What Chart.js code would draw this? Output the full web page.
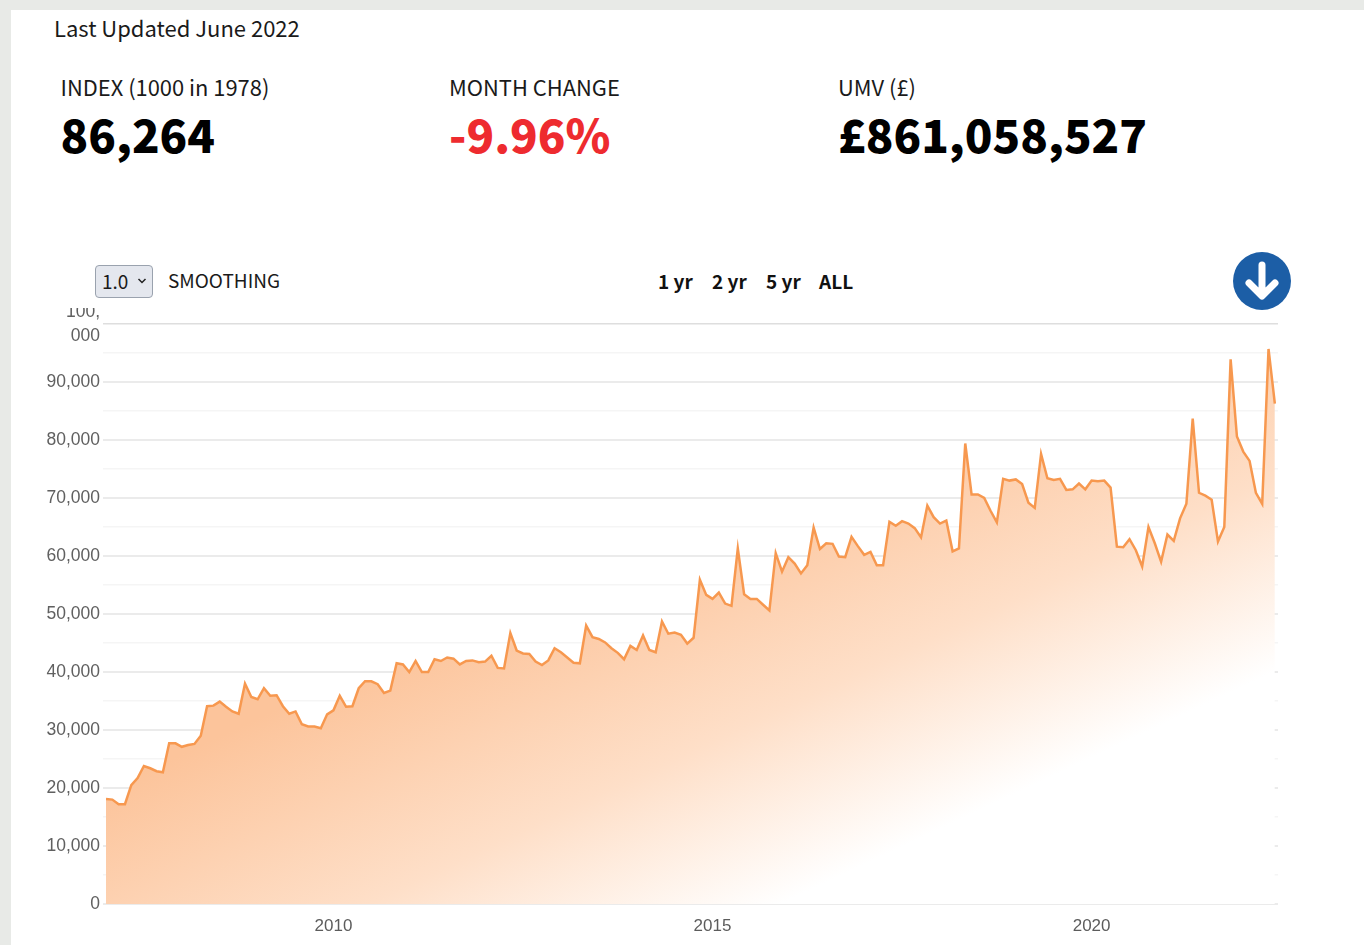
<!DOCTYPE html>
<html>
<head>
<meta charset="utf-8">
<script src="https://cdn.jsdelivr.net/npm/chart.js@4"></script>
<style>
html,body{margin:0;padding:0;background:#e8eae7;overflow:hidden}
#page{position:absolute;left:11px;top:10px;width:1353px;height:935px;background:#fff}
#wrap{position:absolute;left:0;top:0;width:1364px;height:945px;font-family:"Noto Sans CJK SC","Noto Sans",sans-serif;color:#1a1a1a}
#chart{position:absolute;left:0;top:290px}
#bar{position:absolute;left:11px;top:10px;width:1353px;height:298px;background:#fff}
.t{position:absolute;white-space:nowrap;line-height:1}
.lab{font-size:21.9px;top:76px}
.big{font-size:45.5px;font-weight:900;top:111px;color:#000}
#sel{position:absolute;left:95px;top:265px;width:56px;height:31px;background:#e4e7ee;border:1.5px solid #9aa2ae;border-radius:4px;box-sizing:content-box}
.rng{font-size:19px;font-weight:700;top:271px;color:#111}
</style>
</head>
<body>
<div id="page"></div>
<div id="wrap">
<canvas id="chart" width="1364" height="655" style="width:1364px;height:655px"></canvas>
<div id="bar"></div>
<div class="t" style="left:54px;top:16px;font-size:22px">Last Updated June 2022</div>
<div class="t lab" style="left:60.5px">INDEX (1000 in 1978)</div>
<div class="t lab" style="left:449px">MONTH CHANGE</div>
<div class="t lab" style="left:838px">UMV (£)</div>
<div class="t big" style="left:60.5px">86,264</div>
<div class="t big" style="left:449px;color:#ee2b2f">-9.96%</div>
<div class="t big" style="left:838px">£861,058,527</div>
<div id="sel"></div>
<div class="t" style="left:102px;top:271px;font-size:19px">1.0</div>
<svg style="position:absolute;left:137px;top:277px" width="10" height="8"><path d="M1.5 2 L5 5.5 L8.5 2" fill="none" stroke="#222" stroke-width="1.5"/></svg>
<div class="t" style="left:168px;top:270px;font-size:19px">SMOOTHING</div>
<div class="t rng" style="left:658px">1 yr</div>
<div class="t rng" style="left:712px">2 yr</div>
<div class="t rng" style="left:766px">5 yr</div>
<div class="t rng" style="left:819px">ALL</div>
<svg style="position:absolute;left:1233px;top:252px" width="58" height="58" viewBox="0 0 58 58">
<circle cx="29" cy="29" r="29" fill="#1c5ea6"/>
<path d="M29 13 V42 M16 31 L29 44 L42 31" fill="none" stroke="#fff" stroke-width="7" stroke-linecap="round" stroke-linejoin="round"/>
</svg>
</div>
<script>
const firstYear = 2007;
const tickYears = [2010, 2015, 2020];
const yTickLabels = {100000:["100,","000"],90000:"90,000",80000:"80,000",70000:"70,000",60000:"60,000",50000:"50,000",40000:"40,000",30000:"30,000",20000:"20,000",10000:"10,000",0:"0"};
const indexValues = [
18100,18000,17200,17200,20500,21700,23800,23400,22900,22700,27700,27700,
27100,27400,27600,29000,34100,34200,34900,34000,33200,32800,38000,35700,
35300,37200,35900,36000,34100,32800,33200,31000,30600,30600,30300,32700,
33400,35900,34000,34100,37200,38400,38400,37900,36400,36800,41500,41300,
40000,41900,40000,40000,42200,41900,42500,42300,41300,41900,42000,41700,
41800,42800,40700,40600,46700,43700,43200,43100,41800,41200,42000,44100,
43400,42500,41600,41500,48000,46000,45700,45100,44100,43300,42200,44500,
43800,46300,43800,43400,48700,46600,46800,46400,44900,45900,55900,53300,
52600,53700,51800,51400,61300,53400,52600,52600,51600,50600,60500,57300,
59800,58700,57000,58400,64900,61200,62200,62100,59900,59800,63300,61700,
60200,60700,58400,58400,65900,65200,66000,65600,64800,63200,68700,66700,
65600,66100,60800,61300,79400,70600,70600,70000,67800,65800,73300,73000,
73200,72400,69200,68300,77600,73400,73100,73300,71400,71500,72500,71500,
73000,72900,73000,71800,61600,61500,62900,61000,58200,65000,62200,59000,
63700,62600,66500,69000,83700,70900,70400,69700,62500,65000,93900,80600,
78000,76400,70900,69000,95700,86264];

// each reading is one month later than the previous one, expressed in decimal years
const monthPositions = indexValues.map((_, i) => firstYear + i / 12);

function areaFill(ctx) {
  const a = ctx.chart.chartArea;
  if (!a) return "#fdc59c";
  const cx = (a.left + a.right) / 2, cy = (a.top + a.bottom) / 2;
  const nx = 0.425, ny = 0.905;
  const g = ctx.chart.ctx.createLinearGradient(cx - nx * 90, cy - ny * 90, cx + nx * 300, cy + ny * 300);
  g.addColorStop(0, "#fcc49b");
  g.addColorStop(0.55, "#fedfc8");
  g.addColorStop(1, "#ffffff");
  return g;
}

new Chart(document.getElementById("chart"), {
  type: "line",
  data: {
    labels: monthPositions,
    datasets: [{
      data: indexValues,
      borderColor: "#f7984f",
      borderWidth: 2.5,
      backgroundColor: areaFill,
      fill: "origin",
      tension: 0,
      pointRadius: 0
    }]
  },
  options: {
    responsive: false,
    animation: false,
    devicePixelRatio: 1,
    layout: { padding: { left: 0, right: 86, top: 34, bottom: 0 } },
    plugins: { legend: { display: false }, tooltip: { enabled: false } },
    scales: {
      x: {
        type: "linear",
        min: firstYear,
        max: firstYear + 185.5 / 12,
        afterFit: s => { s.height = 41; },
        afterBuildTicks: s => { s.ticks = tickYears.map(v => ({ value: v })); },
        grid: { display: false },
        border: { display: false },
        ticks: {
          autoSkip: false, minRotation: 0, maxRotation: 0, padding: 4,
          color: "#5c5c5c", font: { family: "Liberation Sans", size: 17 },
          callback: v => String(v)
        }
      },
      y: {
        min: 0, max: 100000,
        afterFit: s => { s.width = 106; },
        border: { display: false },
        grid: {
          tickLength: 3,
          lineWidth: c => (c.tick.value % 10000 === 0 && c.tick.value !== 100000 ? 2 : 1.5),
          color: c => c.tick.value === 100000 ? "#dedede" : (c.tick.value % 10000 === 0 ? "#ebebeb" : "#f5f5f5")
        },
        ticks: {
          stepSize: 5000, padding: 3, autoSkip: false,
          color: "#606060", font: { family: "Liberation Sans", size: 17.5, lineHeight: 1.35 },
          callback: v => (v in yTickLabels ? yTickLabels[v] : "")
        }
      }
    }
  }
});
</script>
</body>
</html>
